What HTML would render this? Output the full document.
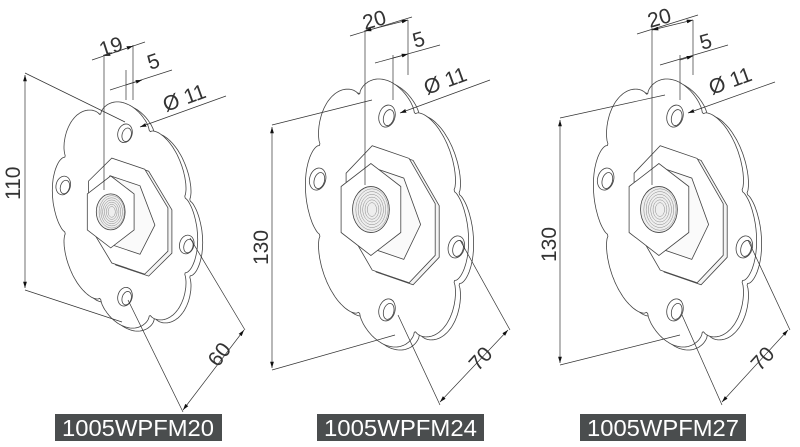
<!DOCTYPE html>
<html><head><meta charset="utf-8"><style>
html,body{margin:0;padding:0;background:#fff;width:800px;height:447px;overflow:hidden}
svg{display:block}
text{font-family:"Liberation Sans",sans-serif}
</style></head><body>
<svg id="s" width="800" height="447" viewBox="0 0 800 447" xmlns="http://www.w3.org/2000/svg">
<defs><marker id="ar" viewBox="0 0 10 10" refX="10" refY="5" markerWidth="9" markerHeight="9" orient="auto-start-reverse"><path d="M0,2 L10,5 L0,8z" fill="#111"/></marker></defs>
<g id="parts" fill="#fff" stroke="#444" stroke-width="0.8"></g>
<g id="dims" stroke="#333" stroke-width="0.7" fill="none">
<line x1="25" y1="73" x2="125" y2="122"/><line x1="25" y1="290" x2="122" y2="322"/>
<line x1="25" y1="75" x2="25" y2="288" marker-start="url(#ar)" marker-end="url(#ar)"/>
<line x1="104" y1="57" x2="104" y2="190"/><line x1="133" y1="45" x2="133" y2="100"/><line x1="126" y1="70" x2="126" y2="100"/>
<line x1="92" y1="60" x2="145" y2="42"/><line x1="104" y1="56" x2="133" y2="46" marker-start="url(#ar)" marker-end="url(#ar)"/>
<line x1="110" y1="90" x2="172" y2="70"/><line x1="126" y1="85" x2="142" y2="80" marker-end="url(#ar)"/>
<line x1="140" y1="127" x2="226" y2="96" marker-start="url(#ar)"/>
<line x1="190" y1="238" x2="245" y2="330"/><line x1="128" y1="300" x2="183" y2="412"/>
<line x1="183" y1="410" x2="244" y2="330" marker-start="url(#ar)" marker-end="url(#ar)"/>
<line x1="272" y1="125" x2="372" y2="100"/><line x1="272" y1="370" x2="395" y2="335"/>
<line x1="272" y1="127" x2="272" y2="368" marker-start="url(#ar)" marker-end="url(#ar)"/>
<line x1="365" y1="30" x2="365" y2="185"/><line x1="408" y1="20" x2="408" y2="75"/><line x1="393" y1="55" x2="393" y2="100"/>
<line x1="350" y1="36" x2="412" y2="17"/><line x1="365" y1="31" x2="408" y2="20" marker-start="url(#ar)" marker-end="url(#ar)"/>
<line x1="375" y1="63" x2="440" y2="45"/><line x1="393" y1="58" x2="408" y2="54" marker-end="url(#ar)"/>
<line x1="400" y1="113" x2="490" y2="80" marker-start="url(#ar)"/>
<line x1="460" y1="240" x2="510" y2="330"/><line x1="398" y1="315" x2="440" y2="405"/>
<line x1="440" y1="402" x2="508" y2="330" marker-start="url(#ar)" marker-end="url(#ar)"/>
<line x1="560" y1="118" x2="665" y2="95"/><line x1="560" y1="365" x2="680" y2="335"/>
<line x1="560" y1="120" x2="560" y2="363" marker-start="url(#ar)" marker-end="url(#ar)"/>
<line x1="652" y1="28" x2="652" y2="185"/><line x1="693" y1="20" x2="693" y2="75"/><line x1="680" y1="55" x2="680" y2="100"/>
<line x1="637" y1="34" x2="698" y2="15"/><line x1="652" y1="30" x2="693" y2="20" marker-start="url(#ar)" marker-end="url(#ar)"/>
<line x1="660" y1="65" x2="728" y2="45"/><line x1="680" y1="60" x2="693" y2="56" marker-end="url(#ar)"/>
<line x1="688" y1="113" x2="775" y2="82" marker-start="url(#ar)"/>
<line x1="748" y1="240" x2="790" y2="330"/><line x1="682" y1="315" x2="722" y2="405"/>
<line x1="722" y1="402" x2="788" y2="330" marker-start="url(#ar)" marker-end="url(#ar)"/>
</g>
<g fill="#333" font-size="21">
<text transform="translate(20,200) rotate(-90)">110</text>
<text transform="translate(102,57) rotate(-18)">19</text>
<text transform="translate(150,70) rotate(-18)">5</text>
<text transform="translate(166,112) rotate(-20)">Ø 11</text>
<text transform="translate(218,368) rotate(-53)">60</text>
<text transform="translate(268,265) rotate(-90)">130</text>
<text transform="translate(365,30) rotate(-16)">20</text>
<text transform="translate(415,48) rotate(-16)">5</text>
<text transform="translate(427,95) rotate(-20)">Ø 11</text>
<text transform="translate(478,372) rotate(-48)">70</text>
<text transform="translate(556,262) rotate(-90)">130</text>
<text transform="translate(650,28) rotate(-16)">20</text>
<text transform="translate(702,50) rotate(-16)">5</text>
<text transform="translate(712,95) rotate(-20)">Ø 11</text>
<text transform="translate(760,372) rotate(-48)">70</text>
</g>
<g>
<rect x="55" y="414" width="167" height="27" fill="#4a4d4e"/>
<rect x="317" y="414" width="167" height="27" fill="#4a4d4e"/>
<rect x="580" y="414" width="166" height="27" fill="#4a4d4e"/>
<g fill="#fff" font-size="23">
<text x="62" y="436" textLength="152" lengthAdjust="spacingAndGlyphs">1005WPFM20</text>
<text x="324" y="436" textLength="153" lengthAdjust="spacingAndGlyphs">1005WPFM24</text>
<text x="587" y="436" textLength="152" lengthAdjust="spacingAndGlyphs">1005WPFM27</text>
</g></g>
</svg>
<script>
(function(){
var NS="http://www.w3.org/2000/svg",G=document.getElementById("parts");
function el(t,a){var e=document.createElementNS(NS,t);for(var k in a)e.setAttribute(k,a[k]);G.appendChild(e);return e;}
function T(p,x,y){return [p.cx+p.a*x,p.cy+p.b*y+p.c*x];}
function flower(p,dx,dy){var s="";for(var i=0;i<=360;i++){var t=i*Math.PI/180,r=1.13+0.17*Math.sqrt(Math.abs(Math.cos(4*t)));var q=T(p,0.86*r*Math.sin(t),-r*Math.cos(t));s+=(i?"L":"M")+(q[0]+dx).toFixed(1)+","+(q[1]+dy).toFixed(1);}return s+"Z";}
function poly(p,cx,cy,r,n,rot,dx,dy){var s="";for(var i=0;i<n;i++){var t=rot+i*2*Math.PI/n;var q=T(p,cx+r*Math.cos(t),cy+r*Math.sin(t));s+=(i?"L":"M")+(q[0]+(dx||0)).toFixed(1)+","+(q[1]+(dy||0)).toFixed(1);}return s+"Z";}
function part(p){
 el("path",{d:flower(p,5,3)});
 el("path",{d:flower(p,0,0)});
 [[0,-0.95],[0.95,0.1],[0,0.95],[-0.95,-0.1]].forEach(function(h){var q=T(p,h[0],h[1]);el("ellipse",{cx:q[0],cy:q[1],rx:p.a*0.11,ry:p.b*0.11,transform:"rotate(15 "+q[0]+" "+q[1]+")"});el("ellipse",{cx:q[0]+2,cy:q[1]+1,rx:p.a*0.07,ry:p.b*0.08,transform:"rotate(15 "+q[0]+" "+q[1]+")"});});
 el("path",{d:poly(p,0.05,0,0.66,8,Math.PI/8,4,2),fill:"#f4f4f4"});
 el("path",{d:poly(p,0.05,0,0.66,8,Math.PI/8,0,0)});
 el("path",{d:poly(p,0,0,0.46,6,0,0,0),fill:"#fafafa"});
 var c=T(p,-0.22,0.02),R=p.n;
 var hs="";for(var i=0;i<6;i++){var t=Math.PI/6+i*Math.PI/3;hs+=(i?"L":"M")+(c[0]+R*0.75*Math.cos(t)).toFixed(1)+","+(c[1]+R*Math.sin(t)).toFixed(1);}
 el("path",{d:hs+"Z",fill:"#fff"});
 el("ellipse",{cx:c[0],cy:c[1],rx:R*0.4,ry:R*0.5,fill:"#eee"});
 for(var k=0;k<6;k++)el("ellipse",{cx:c[0]+1,cy:c[1],rx:R*(0.35-k*0.05),ry:R*(0.45-k*0.06),fill:"none",stroke:"#888","stroke-width":0.5});
}
part({cx:125,cy:215,a:65,b:86,c:22,n:36});
part({cx:387,cy:213,a:73,b:102,c:25,n:46});
part({cx:675,cy:213,a:73,b:102,c:25,n:46});
})();
</script>
</body></html>
